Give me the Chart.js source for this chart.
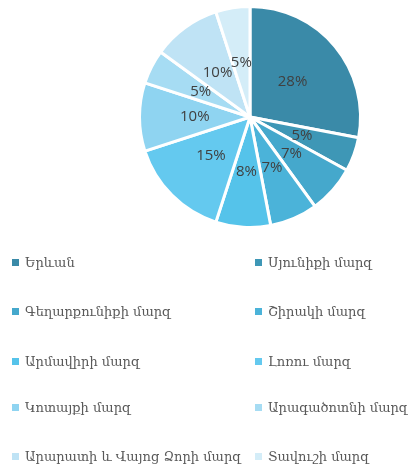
<!DOCTYPE html>
<html>
<head>
<meta charset="utf-8">
<script src="https://cdn.jsdelivr.net/npm/chart.js@4/dist/chart.umd.min.js"></script>
<style>
    body { margin: 0; background: #fff; width: 413px; height: 471px; overflow: hidden; }
    #pie { position: absolute; left: 0; top: 0; width: 413px; height: 240px; }
    #legend { position: absolute; left: 0; top: 0; width: 413px; height: 471px; pointer-events: none; }
    .item { position: absolute; font-family: "DejaVu Serif", "DejaVu Sans", serif; font-size: 13px; color: #595959; white-space: nowrap; line-height: 18px; }
    .box { position: absolute; width: 7px; height: 7px; left: -13px; top: 5px; }
</style>
</head>
<body>
<div id="pie"><canvas id="chart"></canvas></div>
<div id="legend"></div>
<script>
var regions = ["Երևան", "Սյունիքի մարզ", "Գեղարքունիքի մարզ", "Շիրակի մարզ", "Արմավիրի մարզ",
    "Լոռու մարզ", "Կոտայքի մարզ", "Արագածոտնի մարզ", "Արարատի և Վայոց Ձորի մարզ", "Տավուշի մարզ"];
var shares = [28, 5, 7, 7, 8, 15, 10, 5, 10, 5];
var colors = ["#3a8aa8", "#3e97b6", "#45a8cc", "#4bb3d9", "#55c3ea",
    "#64c9ef", "#8fd4f1", "#a6dcf3", "#bfe3f5", "#d4edf8"];

// percent labels inside the slices
var sliceLabels = {
    id: "sliceLabels",
    afterDatasetsDraw: function (chart) {
        var ctx = chart.ctx;
        var meta = chart.getDatasetMeta(0);
        ctx.save();
        ctx.font = "15px 'Open Sans', sans-serif";
        ctx.fillStyle = "#404040";
        ctx.textAlign = "center";
        ctx.textBaseline = "middle";
        meta.data.forEach(function (arc, i) {
            var p = arc.tooltipPosition();
            ctx.fillText(shares[i] + "%", p.x, p.y);
        });
        ctx.restore();
    }
};

var ctx = document.getElementById('chart').getContext('2d');
var chart = new Chart(ctx, {
    type: 'pie',
    data: {
        labels: regions,
        datasets: [{
            data: shares,
            backgroundColor: colors,
            borderColor: '#ffffff',
            borderWidth: 3
        }]
    },
    options: {
        responsive: true,
        maintainAspectRatio: false,
        animation: false,
        layout: { padding: { left: 138, right: 51, top: 5, bottom: 11 } },
        plugins: {
            legend: { display: false },
            tooltip: { enabled: false }
        }
    },
    plugins: [sliceLabels]
});

// two-column legend
var legend = document.getElementById('legend');
var rowY = [254, 303, 353, 399, 448];
for (var i = 0; i < regions.length; i++) {
    var col = i % 2, row = Math.floor(i / 2);
    var el = document.createElement('div');
    el.className = 'item';
    el.style.left = (col === 0 ? 25 : 268) + 'px';
    el.style.top = rowY[row] + 'px';
    var b = document.createElement('span');
    b.className = 'box';
    b.style.background = colors[i];
    el.appendChild(b);
    el.appendChild(document.createTextNode(regions[i]));
    legend.appendChild(el);
}
</script>
</body>
</html>
